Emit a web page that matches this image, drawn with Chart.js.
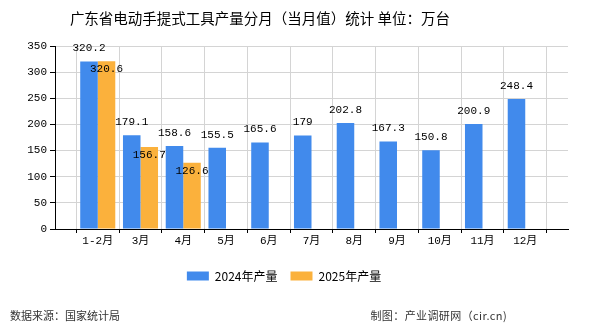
<!DOCTYPE html>
<html>
<head>
<meta charset="utf-8">
<script src="https://cdn.jsdelivr.net/npm/chart.js@4/dist/chart.umd.min.js"></script>
<style>
  body { margin: 0; background: #fff; }
  #wrap { position: relative; width: 590px; height: 330px; }
  #chart { position: absolute; left: 0; top: 0; }
  .title { position: absolute; left: 0; width: 520px; top: 7px; text-align: center;
           font: 14.5px "Noto Sans CJK SC", sans-serif; color: #000; }
  .foot { position: absolute; top: 307px; font: 11px "Noto Sans CJK SC", sans-serif; color: #333; }
</style>
</head>
<body>
<div id="wrap">
  <canvas id="chart" width="590" height="330"></canvas>
  <div class="title">广东省电动手提式工具产量分月（当月值）统计 单位：万台</div>
  <div class="foot" style="left:10px">数据来源：国家统计局</div>
  <div class="foot" style="right:83px; letter-spacing:0.4px">制图：产业调研网（cir.cn)</div>
</div>
<script>
// ── Data ──────────────────────────────────────────────────────────────────────
const MONTHS   = ['1-2月','3月','4月','5月','6月','7月','8月','9月','10月','11月','12月'];
const OUT_2024 = [320.2, 179.1, 158.6, 155.5, 165.6, 179, 202.8, 167.3, 150.8, 200.9, 248.4];
const OUT_2025 = [320.6, 156.7, 126.6, null, null, null, null, null, null, null, null];
const Y_TICKS  = [0, 50, 100, 150, 200, 250, 300, 350];

const BLUE   = '#418aec';
const ORANGE = '#fbb13c';
const GRID   = '#d4d4d4';

// empty slots at both ends so the axis runs one step past the first/last month
const labels = ['', ...MONTHS, ''];
const pad = arr => [null, ...arr, null];

// ── Value labels above bars ───────────────────────────────────────────────────
const valueLabels = {
  id: 'valueLabels',
  afterDatasetsDraw(chart) {
    const ctx = chart.ctx;
    ctx.save();
    ctx.font = '11px "Liberation Mono", monospace';
    ctx.fillStyle = '#000';
    ctx.textAlign = 'center';
    ctx.textBaseline = 'middle';
    chart.data.datasets.forEach((ds, di) => {
      chart.getDatasetMeta(di).data.forEach((bar, i) => {
        const v = ds.data[i];
        if (v == null) return;
        const dy = di === 0 ? -13 : 8;
        ctx.fillText(String(v), bar.x, bar.y + dy);
      });
    });
    ctx.restore();
  }
};

new Chart(document.getElementById('chart'), {
  type: 'bar',
  data: {
    labels,
    datasets: [
      { label: '2024年产量', data: pad(OUT_2024), backgroundColor: BLUE },
      { label: '2025年产量', data: pad(OUT_2025), backgroundColor: ORANGE },
    ]
  },
  options: {
    responsive: false,
    animation: false,
    layout: { padding: { left: 0, right: 22, top: 46, bottom: 38 } },
    datasets: { bar: { categoryPercentage: 0.82, barPercentage: 1 } },
    plugins: {
      legend: {
        position: 'bottom',
        labels: {
          boxWidth: 22, boxHeight: 9, padding: 13, color: '#000',
          font: { family: '"Noto Sans CJK SC", sans-serif', size: 12 }
        }
      },
      tooltip: { enabled: false },
    },
    scales: {
      x: {
        offset: false,
        grid: { color: GRID, tickColor: '#000', tickLength: 4 },
        border: { color: '#000' },
        ticks: { color: '#000', padding: 1, maxRotation: 0, autoSkip: false,
                 font: { family: '"Liberation Mono", "Noto Sans CJK SC", monospace', size: 11 } },
        afterFit: s => { s.height = 28; },
      },
      y: {
        min: 0, max: 350,
        afterBuildTicks: s => { s.ticks = Y_TICKS.map(v => ({ value: v })); },
        grid: { color: GRID, tickColor: '#000', tickLength: 5 },
        border: { color: '#000' },
        ticks: { color: '#000', padding: 3,
                 font: { family: '"Liberation Mono", monospace', size: 11 } },
        afterFit: s => { s.width = 55; },
      },
    },
  },
  plugins: [valueLabels],
});
</script>
</body>
</html>
